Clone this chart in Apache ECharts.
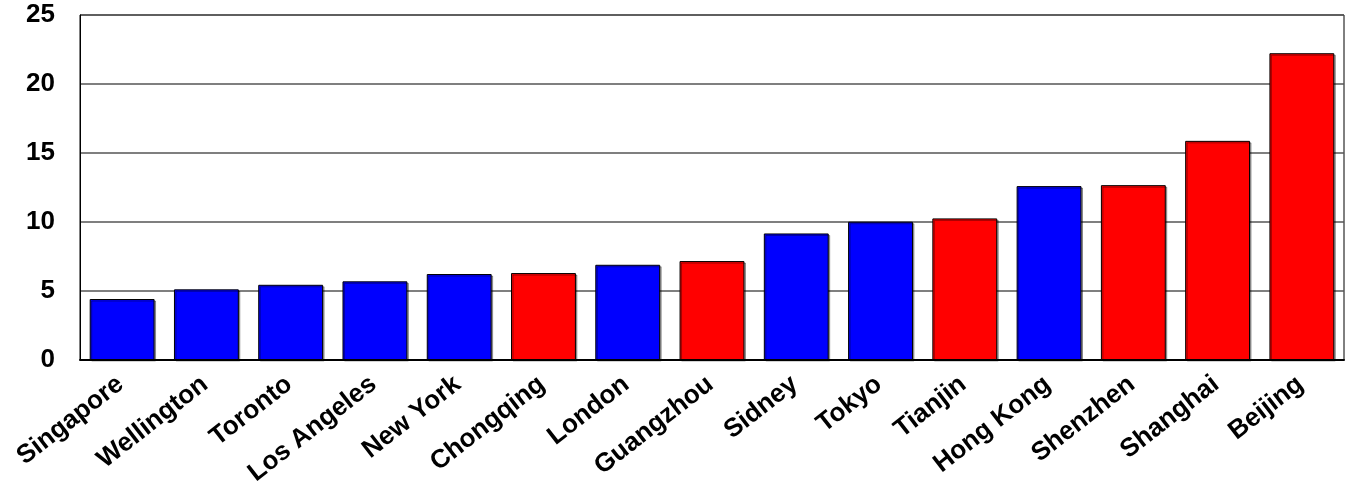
<!DOCTYPE html>
<html>
<head>
<meta charset="utf-8">
<script src="https://cdn.jsdelivr.net/npm/echarts@6/dist/echarts.min.js"></script>
<style>
html,body{margin:0;padding:0;background:#fff;}
#chart{width:1351px;height:486px;}
</style>
</head>
<body>
<div id="chart"></div>
<script>
const cities = ['Singapore','Wellington','Toronto','Los Angeles','New York','Chongqing','London','Guangzhou','Sidney','Tokyo','Tianjin','Hong Kong','Shenzhen','Shanghai','Beijing'];
const values = [4.42, 5.12, 5.45, 5.70, 6.23, 6.30, 6.90, 7.17, 9.17, 10.02, 10.26, 12.60, 12.67, 15.88, 22.23];
const groups = ['other','other','other','other','other','china','other','china','other','other','china','other','china','china','china'];
const yTicks = [0, 5, 10, 15, 20, 25];

const groupColor = { other: '#0000FF', china: '#FF0000' };

const chart = echarts.init(document.getElementById('chart'), null, { renderer: 'canvas' });
chart.setOption({
  animation: false,
  backgroundColor: '#ffffff',
  grid: { left: 80, top: 15, right: 7, bottom: 126, containLabel: false, outerBoundsMode: 'none', show: true, borderColor: '#000', borderWidth: 1, backgroundColor: 'transparent' },
  xAxis: {
    type: 'category',
    data: cities,
    axisLine: { show: true, lineStyle: { color: '#000', width: 2 } },
    axisTick: { show: false },
    axisLabel: {
      interval: 0,
      rotate: 38,
      margin: 20,
      padding: [0, 2, 0, 0],
      fontFamily: 'Liberation Sans, Arial, sans-serif',
      fontWeight: 'bold',
      fontSize: 26,
      color: '#000'
    }
  },
  yAxis: {
    type: 'value',
    min: yTicks[0],
    max: yTicks[yTicks.length - 1],
    interval: 5,
    axisLine: { show: true, lineStyle: { color: '#000', width: 1 } },
    axisTick: { show: false },
    splitLine: { show: true, lineStyle: { color: '#555', width: 1.5 } },
    axisLabel: {
      margin: 25,
      fontFamily: 'Liberation Sans, Arial, sans-serif',
      fontWeight: 'bold',
      fontSize: 26,
      color: '#000'
    }
  },
  series: [{
    type: 'bar',
    barCategoryGap: '23%',
    data: values.map((v, i) => ({
      value: v,
      itemStyle: { color: groupColor[groups[i]] }
    })),
    itemStyle: {
      borderColor: '#000',
      borderWidth: 1,
      shadowColor: 'rgba(0,0,0,0.35)',
      shadowOffsetX: 1.5,
      shadowOffsetY: 1.5,
      shadowBlur: 0
    }
  }]
});
</script>
</body>
</html>
